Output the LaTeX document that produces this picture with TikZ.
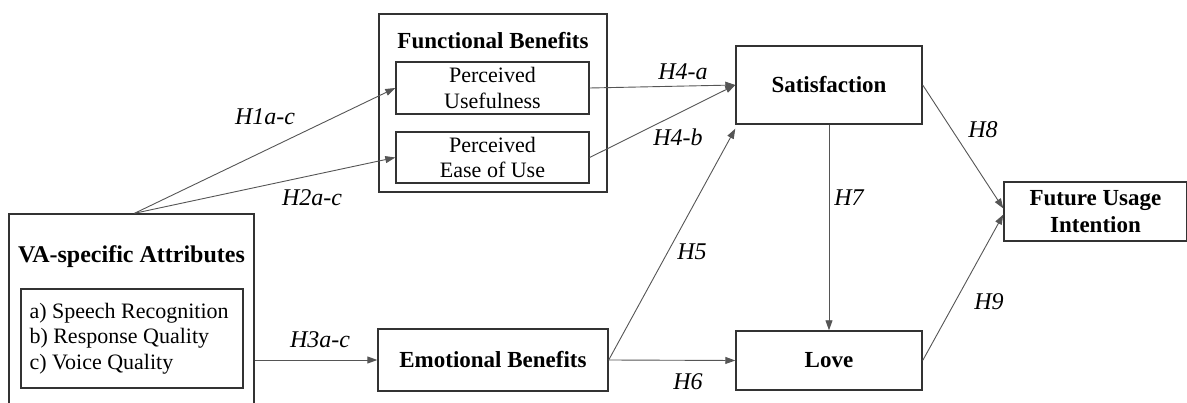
\documentclass[tikz,border=0pt]{standalone}
\usepackage{fontspec}
\setmainfont{Liberation Serif}
\usetikzlibrary{arrows.meta,calc}
\definecolor{boxline}{HTML}{333333}
\definecolor{arrline}{HTML}{555555}
\tikzset{
  box/.style={draw=boxline, line width=1.4pt, rectangle, inner sep=0pt, align=center,
    font=\fontsize{22}{25.5}\selectfont},
  boldbox/.style={box, font=\fontsize{23}{27}\selectfont\bfseries},
  boldtxt/.style={font=\fontsize{23}{27}\selectfont\bfseries, inner sep=0pt, align=center},
  conn/.style={draw=arrline, line width=0.9pt, -{Triangle[length=10pt,width=7pt]}},
  hlabel/.style={font=\fontsize{24}{27}\selectfont\itshape, inner sep=0pt},
}
\begin{document}
\begin{tikzpicture}[x=1pt,y=-1pt]
\useasboundingbox (0,0) rectangle (1187,403);
% VA-specific attributes
\node[box, minimum width=245pt, minimum height=200pt] (va) at (131.5,314) {};
\node[boldtxt, font=\fontsize{24}{27}\selectfont\bfseries] (vatitle) at (131.5,257) {VA-specific Attributes};
\node[box, minimum width=222pt, minimum height=99pt, align=left] (attr) at (132,338.5)
  {\parbox{205pt}{a) Speech Recognition\\ b) Response Quality\\ c) Voice Quality}};
% Functional benefits
\node[box, minimum width=228pt, minimum height=178pt] (fb) at (493,103) {};
\node[boldtxt] (fbtitle) at (493,41) {Functional Benefits};
\node[box, minimum width=193pt, minimum height=52pt] (pu) at (492.5,88) {Perceived\\Usefulness};
\node[box, minimum width=193pt, minimum height=51pt] (peou) at (492.5,157.5) {Perceived\\Ease of Use};
% Emotional benefits
\node[boldbox, minimum width=230pt, minimum height=62pt] (eb) at (493,360) {Emotional Benefits};
% Satisfaction, Love
\node[boldbox, minimum width=186pt, minimum height=78pt] (sat) at (829,85) {Satisfaction};
\node[boldbox, minimum width=186pt, minimum height=59pt] (love) at (829,360.5) {Love};
% Future usage intention
\node[boldbox, minimum width=183pt, minimum height=59pt] (fui) at (1095.5,211.5) {Future Usage\\Intention};
% connectors
\draw[conn] ($(va.north)+(3,0)$) -- (pu.west);
\draw[conn] ($(va.north)+(3,0)$) -- (peou.west);
\draw[conn] (eb.west -| va.east) -- (eb.west);
\draw[conn] (pu.east) -- (sat.west);
\draw[conn] (peou.east) -- (sat.west);
\draw[conn] (eb.east) -- ($(sat.south west)+(0,4)$);
\draw[conn] (eb.east) -- (love.west);
\draw[conn] (sat.south) -- (love.north);
\draw[conn] (sat.east) -- ($(fui.west)+(0,-3)$);
\draw[conn] (love.east) -- ($(fui.west)+(0,3)$);
% labels
\node[hlabel] (h1) at (265,117) {H1a-c};
\node[hlabel] (h2) at (312,198) {H2a-c};
\node[hlabel] (h3) at (320,340) {H3a-c};
\node[hlabel] (h4a) at (683,72) {H4-a};
\node[hlabel] (h4b) at (678,137) {H4-b};
\node[hlabel] (h5) at (692,252) {H5};
\node[hlabel] (h6) at (688,382) {H6};
\node[hlabel] (h7) at (849,198) {H7};
\node[hlabel] (h8) at (983,130) {H8};
\node[hlabel] (h9) at (989,302) {H9};
\end{tikzpicture}
\end{document}
